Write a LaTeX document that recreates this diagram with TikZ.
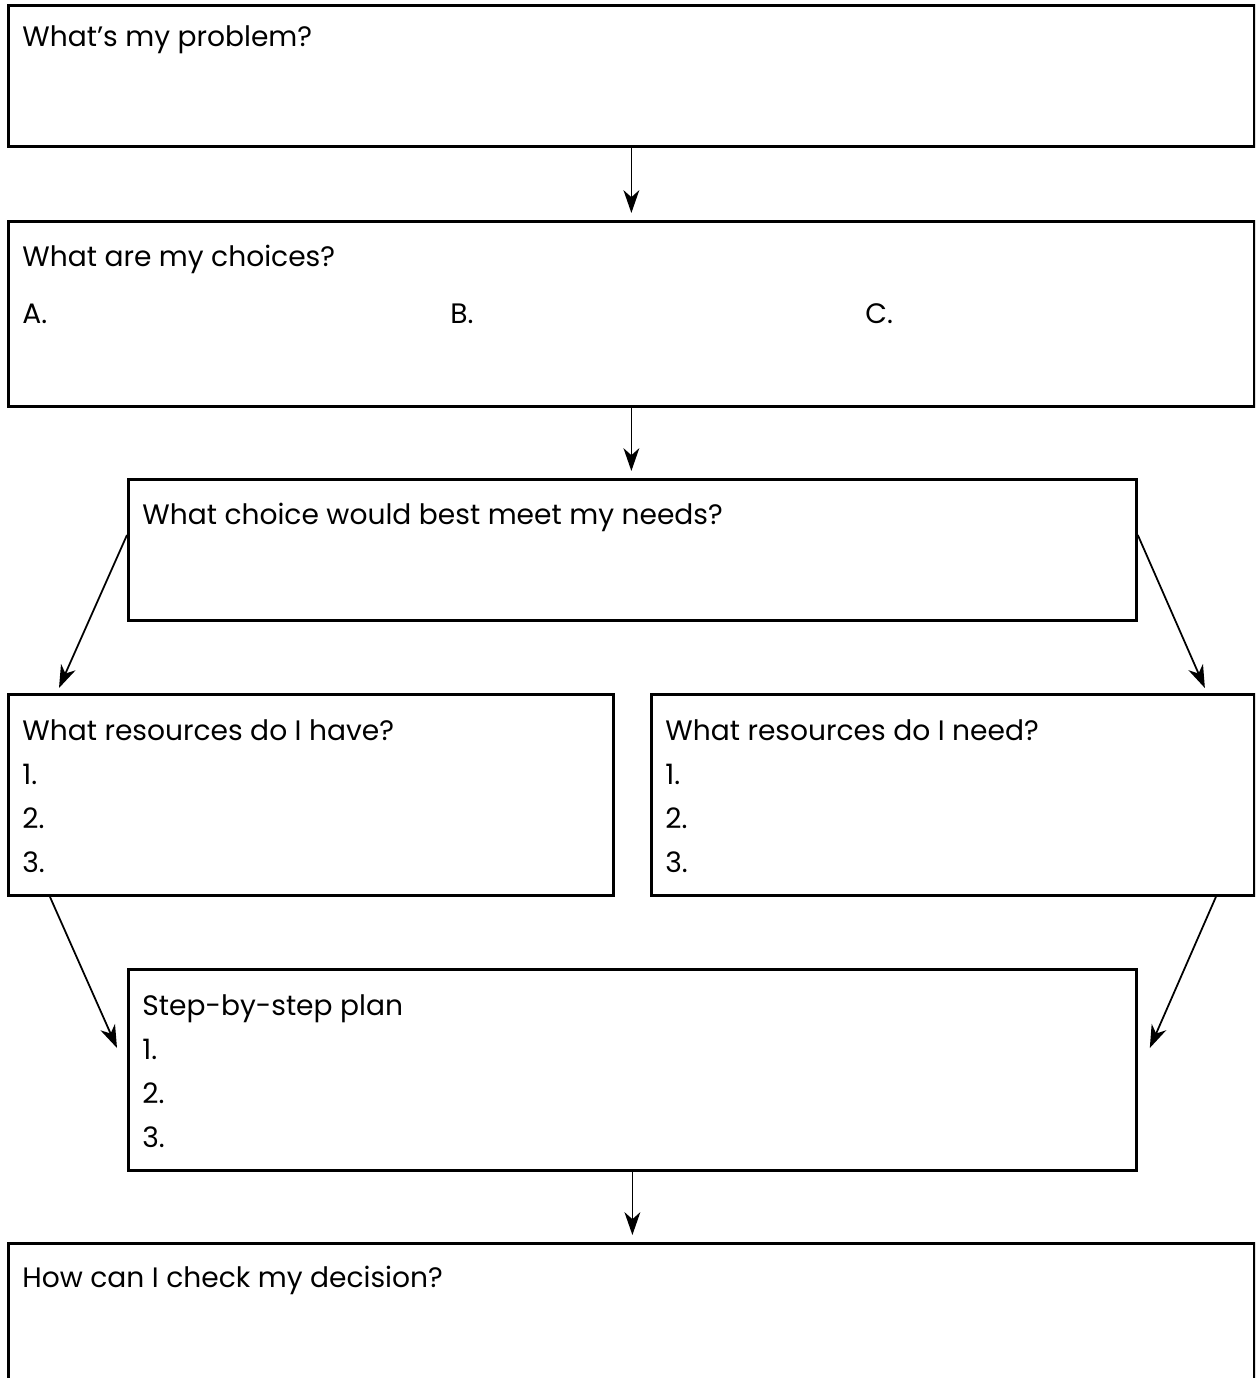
\documentclass[tikz,border=0pt]{standalone}
\usepackage{fontspec}
\setmainfont{Poppins}
\usetikzlibrary{positioning, arrows.meta, calc}

\begin{document}
\begin{tikzpicture}[x=0.02cm, y=-0.02cm,
    box/.style={draw, line width=1.7pt, rectangle, anchor=north west, inner sep=0pt},
    txt/.style={anchor=base west, inner sep=0pt, font=\fontsize{16}{19}\selectfont},
    flow/.style={line width=1pt, -{Stealth[length=13pt, width=9pt, inset=4pt]}}]

    % Page frame
    \clip (0,0) rectangle (1255,1378);

    % Top box: the problem
    \node[box, minimum width=24.92cm, minimum height=2.82cm] (problem) at (7,4) {};
    \node[txt] (problemtxt) at ([shift={(15,43)}]problem.north west) {What’s my problem?};

    % Second box: the choices A, B and C
    \node[box, minimum width=24.92cm, minimum height=3.7cm] (choices) at (7,220) {};
    \node[txt] (choicestxt) at ([shift={(15,47)}]choices.north west) {What are my choices?};
    \node[txt] (choiceA) at ([shift={(0,56)}]choicestxt.base west) {A.};
    \node[txt] (choiceB) at ([shift={(428,0)}]choiceA.base west) {B.};
    \node[txt] (choiceC) at ([shift={(843,0)}]choiceA.base west) {C.};

    % Middle box: the best choice
    \node[box, minimum width=20.16cm, minimum height=2.82cm] (needs) at (127,478) {};
    \node[txt] (needstxt) at ([shift={(15,46)}]needs.north west) {What choice would best meet my needs?};

    % Left resource box
    \node[box, minimum width=12.1cm, minimum height=4.02cm] (have) at (7,693) {};
    \node[txt] (havetxt) at ([shift={(15,47)}]have.north west) {What resources do I have?};
    \node[txt] (have1) at ([shift={(0,44)}]havetxt.base west) {1.};
    \node[txt] (have2) at ([shift={(0,44)}]have1.base west) {2.};
    \node[txt] (have3) at ([shift={(0,44)}]have2.base west) {3.};

    % Right resource box
    \node[box, minimum width=12.06cm, minimum height=4.02cm] (need) at (650,693) {};
    \node[txt] (needtxt) at ([shift={(15,47)}]need.north west) {What resources do I need?};
    \node[txt] (need1) at ([shift={(0,44)}]needtxt.base west) {1.};
    \node[txt] (need2) at ([shift={(0,44)}]need1.base west) {2.};
    \node[txt] (need3) at ([shift={(0,44)}]need2.base west) {3.};

    % Plan box
    \node[box, minimum width=20.16cm, minimum height=4.02cm] (plan) at (127,968) {};
    \node[txt] (plantxt) at ([shift={(15,47)}]plan.north west) {Step-by-step plan};
    \node[txt] (plan1) at ([shift={(0,44)}]plantxt.base west) {1.};
    \node[txt] (plan2) at ([shift={(0,44)}]plan1.base west) {2.};
    \node[txt] (plan3) at ([shift={(0,44)}]plan2.base west) {3.};

    % Bottom box, runs off the page
    \node[box, minimum width=24.92cm, minimum height=4cm] (check) at (7,1242) {};
    \node[txt] (checktxt) at ([shift={(15,45)}]check.north west) {How can I check my decision?};

    % Free ends of the slanted arrows
    \coordinate (needsL) at ([shift={(0,57)}]needs.north west);
    \coordinate (needsR) at ([shift={(0,57)}]needs.north east);
    \coordinate (haveTip) at ([shift={(52,-5)}]have.north west);
    \coordinate (needTip) at ([shift={(-51,-5)}]need.north east);
    \coordinate (haveOut) at ([shift={(43,0)}]have.south west);
    \coordinate (needOut) at ([shift={(-40,0)}]need.south east);
    \coordinate (planL) at ([shift={(-10,80)}]plan.north west);
    \coordinate (planR) at ([shift={(12,80)}]plan.north east);

    % Straight down arrows
    \draw[flow, shorten >=0.14cm] (problem) -- (choices);
    \draw[flow, shorten >=0.14cm] (choices) -- (choices.south |- needs.north);
    \draw[flow, shorten >=0.14cm] (plan) -- (plan.south |- check.north);

    % Slanted arrows
    \draw[flow] (needsL) -- (haveTip);
    \draw[flow] (needsR) -- (needTip);
    \draw[flow] (haveOut) -- (planL);
    \draw[flow] (needOut) -- (planR);

\end{tikzpicture}
\end{document}
